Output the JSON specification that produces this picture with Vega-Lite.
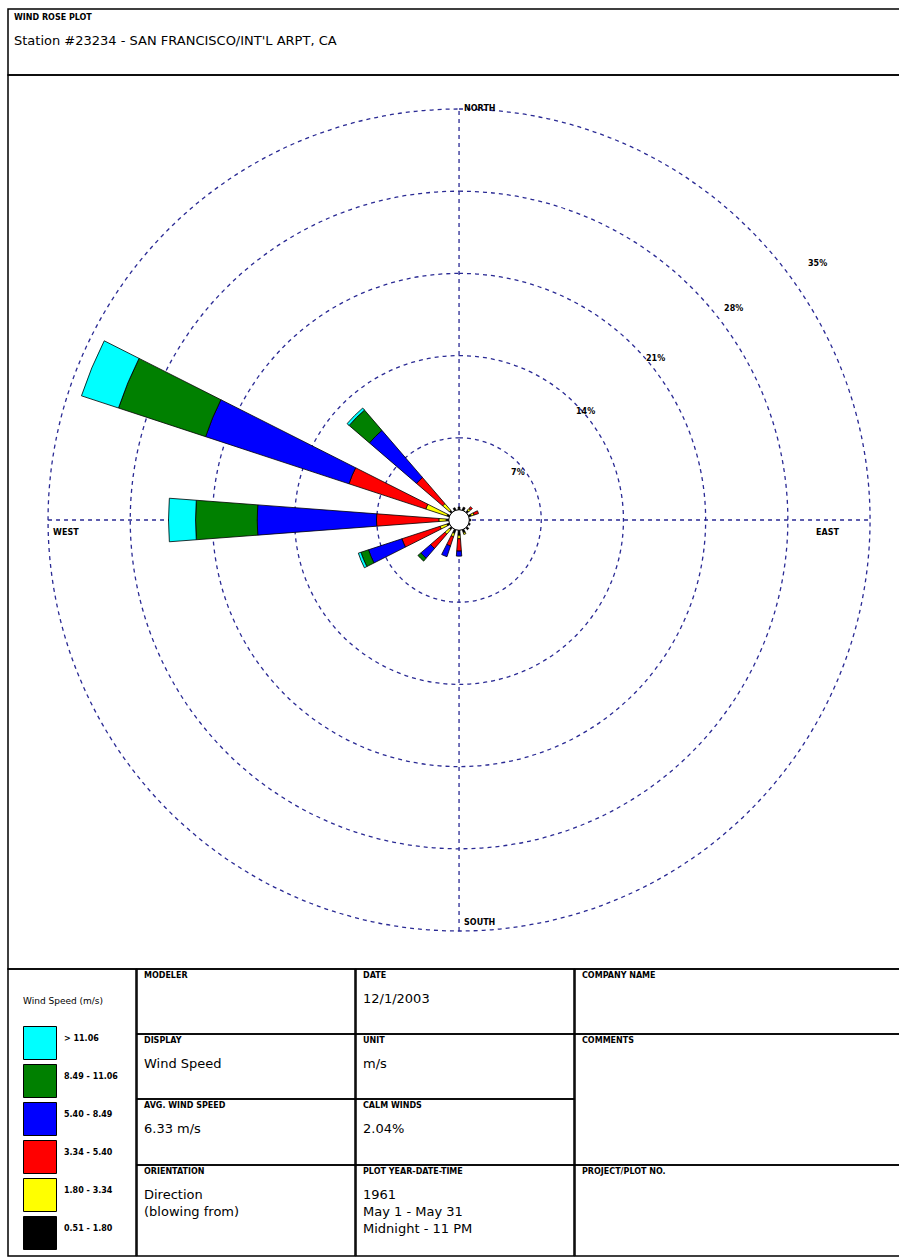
{
  "$schema": "https://vega.github.io/schema/vega-lite/v6.json",
  "padding": {"left": 7, "top": 8, "right": 0, "bottom": 0},
  "background": "white",
  "bounds": "flush",
  "spacing": 0,
  "config": {
    "view": {"stroke": "black", "strokeWidth": 1.5},
    "font": "DejaVu Sans",
    "title": {"anchor": "start", "frame": "group", "font": "DejaVu Sans", "fontSize": 8, "fontWeight": "bold", "color": "black", "subtitleFont": "DejaVu Sans", "subtitleFontSize": 13, "subtitleFontWeight": "normal", "subtitleColor": "black", "subtitlePadding": 12.5, "subtitleLineHeight": 17, "dx": 7}
  },
  "vconcat": [
    {
      "width": 892, "height": 66,
      "view": {"stroke": "black", "strokeWidth": 1.5},
      "title": {"text": "WIND ROSE PLOT", "subtitle": "Station #23234 - SAN FRANCISCO/INT'L ARPT, CA", "fontSize": 8, "subtitlePadding": 13, "offset": -39, "dx": 6},
      "data": {"values": [{"note": ""}]},
      "mark": "text",
      "encoding": {"text": {"field": "note"}}
    },
    {
      "width": 892, "height": 894,
      "layer": [
        {
          "data": {"values": [{"ring": 7}, {"ring": 14}, {"ring": 21}, {"ring": 28}, {"ring": 35}]},
          "mark": {"type": "arc", "theta": 0, "theta2": 6.2832, "filled": false, "stroke": "#2a2a94", "strokeWidth": 1.3, "strokeDash": [4, 4]},
          "encoding": {
            "x": {"datum": 0, "type": "quantitative", "scale": {"domain": [-38.41, 37.55], "nice": false, "zero": false}, "axis": null},
            "y": {"datum": 0, "type": "quantitative", "scale": {"domain": [-38.24, 37.9], "nice": false, "zero": false}, "axis": null},
            "radius": {"field": "ring", "type": "quantitative", "stack": null, "scale": {"type": "linear", "domain": [0, 35], "range": [0, 411], "zero": true, "nice": false}}
          }
        },
        {
          "data": {"values": [{"x": -35, "x2": 35, "y": 0, "y2": 0}, {"x": 0, "x2": 0, "y": -35, "y2": 35}]},
          "mark": {"type": "rule", "stroke": "#2a2a94", "strokeWidth": 1.3, "strokeDash": [4, 4]},
          "encoding": {
            "x": {"field": "x", "type": "quantitative", "scale": {"domain": [-38.41, 37.55], "nice": false, "zero": false}, "axis": null},
            "x2": {"field": "x2"},
            "y": {"field": "y", "type": "quantitative", "scale": {"domain": [-38.24, 37.9], "nice": false, "zero": false}, "axis": null},
            "y2": {"field": "y2"}
          }
        },
        {
          "data": {"values": [
            {"direction": "N", "bearing": 0, "speed": "0.51 - 1.80", "lo": 0, "hi": 1.1},
            {"direction": "NNE", "bearing": 22.5, "speed": "0.51 - 1.80", "lo": 0, "hi": 1.15},
            {"direction": "NE", "bearing": 45, "speed": "0.51 - 1.80", "lo": 0, "hi": 1.1},
            {"direction": "NE", "bearing": 45, "speed": "1.80 - 3.34", "lo": 1.1, "hi": 1.3},
            {"direction": "NE", "bearing": 45, "speed": "3.34 - 5.40", "lo": 1.3, "hi": 1.5},
            {"direction": "ENE", "bearing": 67.5, "speed": "0.51 - 1.80", "lo": 0, "hi": 1.1},
            {"direction": "ENE", "bearing": 67.5, "speed": "1.80 - 3.34", "lo": 1.1, "hi": 1.35},
            {"direction": "ENE", "bearing": 67.5, "speed": "3.34 - 5.40", "lo": 1.35, "hi": 1.75},
            {"direction": "E", "bearing": 90, "speed": "0.51 - 1.80", "lo": 0, "hi": 1.0},
            {"direction": "ESE", "bearing": 112.5, "speed": "0.51 - 1.80", "lo": 0, "hi": 1.0},
            {"direction": "SE", "bearing": 135, "speed": "0.51 - 1.80", "lo": 0, "hi": 1.1},
            {"direction": "SSE", "bearing": 157.5, "speed": "0.51 - 1.80", "lo": 0, "hi": 1.15},
            {"direction": "SSE", "bearing": 157.5, "speed": "1.80 - 3.34", "lo": 1.15, "hi": 1.3},
            {"direction": "S", "bearing": 180, "speed": "0.51 - 1.80", "lo": 0, "hi": 1.3},
            {"direction": "S", "bearing": 180, "speed": "1.80 - 3.34", "lo": 1.3, "hi": 1.6},
            {"direction": "S", "bearing": 180, "speed": "3.34 - 5.40", "lo": 1.6, "hi": 2.65},
            {"direction": "S", "bearing": 180, "speed": "5.40 - 8.49", "lo": 2.65, "hi": 3.08},
            {"direction": "SSW", "bearing": 202.5, "speed": "0.51 - 1.80", "lo": 0, "hi": 1.2},
            {"direction": "SSW", "bearing": 202.5, "speed": "1.80 - 3.34", "lo": 1.2, "hi": 1.5},
            {"direction": "SSW", "bearing": 202.5, "speed": "3.34 - 5.40", "lo": 1.5, "hi": 2.33},
            {"direction": "SSW", "bearing": 202.5, "speed": "5.40 - 8.49", "lo": 2.33, "hi": 3.29},
            {"direction": "SW", "bearing": 225, "speed": "0.51 - 1.80", "lo": 0, "hi": 1.1},
            {"direction": "SW", "bearing": 225, "speed": "1.80 - 3.34", "lo": 1.1, "hi": 1.6},
            {"direction": "SW", "bearing": 225, "speed": "3.34 - 5.40", "lo": 1.6, "hi": 3.2},
            {"direction": "SW", "bearing": 225, "speed": "5.40 - 8.49", "lo": 3.2, "hi": 4.3},
            {"direction": "SW", "bearing": 225, "speed": "8.49 - 11.06", "lo": 4.3, "hi": 4.62},
            {"direction": "WSW", "bearing": 247.5, "speed": "0.51 - 1.80", "lo": 0, "hi": 1.1},
            {"direction": "WSW", "bearing": 247.5, "speed": "1.80 - 3.34", "lo": 1.1, "hi": 1.7},
            {"direction": "WSW", "bearing": 247.5, "speed": "3.34 - 5.40", "lo": 1.7, "hi": 5.12},
            {"direction": "WSW", "bearing": 247.5, "speed": "5.40 - 8.49", "lo": 5.12, "hi": 8.12},
            {"direction": "WSW", "bearing": 247.5, "speed": "8.49 - 11.06", "lo": 8.12, "hi": 8.8},
            {"direction": "WSW", "bearing": 247.5, "speed": "> 11.06", "lo": 8.8, "hi": 9.03},
            {"direction": "W", "bearing": 270, "speed": "0.51 - 1.80", "lo": 0, "hi": 1.1},
            {"direction": "W", "bearing": 270, "speed": "1.80 - 3.34", "lo": 1.1, "hi": 1.72},
            {"direction": "W", "bearing": 270, "speed": "3.34 - 5.40", "lo": 1.72, "hi": 7.03},
            {"direction": "W", "bearing": 270, "speed": "5.40 - 8.49", "lo": 7.03, "hi": 17.19},
            {"direction": "W", "bearing": 270, "speed": "8.49 - 11.06", "lo": 17.19, "hi": 22.44},
            {"direction": "W", "bearing": 270, "speed": "> 11.06", "lo": 22.44, "hi": 24.74},
            {"direction": "WNW", "bearing": 292.5, "speed": "0.51 - 1.80", "lo": 0, "hi": 1.1},
            {"direction": "WNW", "bearing": 292.5, "speed": "1.80 - 3.34", "lo": 1.1, "hi": 2.98},
            {"direction": "WNW", "bearing": 292.5, "speed": "3.34 - 5.40", "lo": 2.98, "hi": 9.87},
            {"direction": "WNW", "bearing": 292.5, "speed": "5.40 - 8.49", "lo": 9.87, "hi": 22.72},
            {"direction": "WNW", "bearing": 292.5, "speed": "8.49 - 11.06", "lo": 22.72, "hi": 30.53},
            {"direction": "WNW", "bearing": 292.5, "speed": "> 11.06", "lo": 30.53, "hi": 33.85},
            {"direction": "NW", "bearing": 315, "speed": "0.51 - 1.80", "lo": 0, "hi": 1.1},
            {"direction": "NW", "bearing": 315, "speed": "1.80 - 3.34", "lo": 1.1, "hi": 1.85},
            {"direction": "NW", "bearing": 315, "speed": "3.34 - 5.40", "lo": 1.85, "hi": 4.78},
            {"direction": "NW", "bearing": 315, "speed": "5.40 - 8.49", "lo": 4.78, "hi": 10.07},
            {"direction": "NW", "bearing": 315, "speed": "8.49 - 11.06", "lo": 10.07, "hi": 12.35},
            {"direction": "NW", "bearing": 315, "speed": "> 11.06", "lo": 12.35, "hi": 12.58},
            {"direction": "NNW", "bearing": 337.5, "speed": "0.51 - 1.80", "lo": 0, "hi": 1.1}
          ]},
          "mark": {"type": "arc", "stroke": "black", "strokeWidth": 0.8, "thetaOffset": -0.075, "theta2Offset": 0.075},
          "encoding": {
            "x": {"datum": 0, "type": "quantitative", "scale": {"domain": [-38.41, 37.55], "nice": false, "zero": false}, "axis": null},
            "y": {"datum": 0, "type": "quantitative", "scale": {"domain": [-38.24, 37.9], "nice": false, "zero": false}, "axis": null},
            "theta": {"field": "bearing", "type": "quantitative", "stack": null, "scale": {"domain": [0, 360], "range": [0, 6.283185], "zero": false, "nice": false}},
            "theta2": {"field": "bearing"},
            "radius": {"field": "hi", "type": "quantitative", "stack": null, "scale": {"type": "linear", "domain": [0, 35], "range": [0, 411], "zero": true, "nice": false}},
            "radius2": {"field": "lo"},
            "color": {
              "field": "speed", "type": "nominal",
              "scale": {"domain": ["> 11.06", "8.49 - 11.06", "5.40 - 8.49", "3.34 - 5.40", "1.80 - 3.34", "0.51 - 1.80"], "range": ["#00FFFF", "#008000", "#0000FF", "#FF0000", "#FFFF00", "#000000"]},
              "legend": {
                "title": "Wind Speed (m/s)", "orient": "none", "legendX": 15, "legendY": 988, "padding": 0,
                "titleFont": "DejaVu Sans", "titleFontSize": 9, "titleFontWeight": "normal", "titleColor": "black", "titlePadding": 20,
                "symbolType": "square", "symbolSize": 1089, "symbolStrokeColor": "black", "symbolStrokeWidth": 1, "symbolOpacity": 1,
                "rowPadding": 0, "labelOffset": 7, "labelFont": "DejaVu Sans", "labelFontSize": 8, "labelFontWeight": "bold", "labelColor": "black", "labelBaseline": "bottom"
              }
            }
          }
        },
        {
          "data": {"values": [{"calm": "2.04%"}]},
          "mark": {"type": "arc", "radius": 10.3, "theta": 0, "theta2": 6.2832, "fill": "white", "stroke": "black", "strokeWidth": 1},
          "encoding": {
            "x": {"datum": 0, "type": "quantitative", "scale": {"domain": [-38.41, 37.55], "nice": false, "zero": false}, "axis": null},
            "y": {"datum": 0, "type": "quantitative", "scale": {"domain": [-38.24, 37.9], "nice": false, "zero": false}, "axis": null}
          }
        },
        {
          "data": {"values": [
            {"label": "NORTH", "x": 0.43, "y": 35.0},
            {"label": "SOUTH", "x": 0.43, "y": -34.32},
            {"label": "WEST", "x": -34.57, "y": -1.11},
            {"label": "EAST", "x": 30.4, "y": -1.11},
            {"label": "7%", "x": 4.43, "y": 4.03},
            {"label": "14%", "x": 9.96, "y": 9.2},
            {"label": "21%", "x": 15.92, "y": 13.75},
            {"label": "28%", "x": 22.57, "y": 18.01},
            {"label": "35%", "x": 29.72, "y": 21.84}
          ]},
          "mark": {"type": "text", "align": "left", "baseline": "middle", "fontSize": 8, "fontWeight": "bold", "color": "black", "font": "DejaVu Sans"},
          "encoding": {
            "x": {"field": "x", "type": "quantitative", "scale": {"domain": [-38.41, 37.55], "nice": false, "zero": false}, "axis": null},
            "y": {"field": "y", "type": "quantitative", "scale": {"domain": [-38.24, 37.9], "nice": false, "zero": false}, "axis": null},
            "text": {"field": "label"}
          }
        }
      ]
    },
    {
      "hconcat": [
        {"width": 128, "height": 287, "view": {"stroke": "black", "strokeWidth": 1.5}, "data": {"values": [{"note": ""}]}, "mark": "text", "encoding": {"text": {"field": "note"}}},
        {
          "vconcat": [
            {"width": 218, "height": 65, "view": {"stroke": "black", "strokeWidth": 1.5}, "title": {"text": "MODELER", "offset": -11}, "data": {"values": [{"note": ""}]}, "mark": "text", "encoding": {"text": {"field": "note"}}},
            {"width": 218, "height": 65, "view": {"stroke": "black", "strokeWidth": 1.5}, "title": {"text": "DISPLAY", "subtitle": "Wind Speed", "offset": -36.5}, "data": {"values": [{"note": ""}]}, "mark": "text", "encoding": {"text": {"field": "note"}}},
            {"width": 218, "height": 66, "view": {"stroke": "black", "strokeWidth": 1.5}, "title": {"text": "AVG. WIND SPEED", "subtitle": "6.33 m/s", "offset": -36.5}, "data": {"values": [{"note": ""}]}, "mark": "text", "encoding": {"text": {"field": "note"}}},
            {"width": 218, "height": 91, "view": {"stroke": "black", "strokeWidth": 1.5}, "title": {"text": "ORIENTATION", "subtitle": ["Direction", "(blowing from)"], "offset": -53.5}, "data": {"values": [{"note": ""}]}, "mark": "text", "encoding": {"text": {"field": "note"}}}
          ],
          "spacing": 0, "bounds": "flush"
        },
        {
          "vconcat": [
            {"width": 218, "height": 65, "view": {"stroke": "black", "strokeWidth": 1.5}, "title": {"text": "DATE", "subtitle": "12/1/2003", "offset": -36.5}, "data": {"values": [{"note": ""}]}, "mark": "text", "encoding": {"text": {"field": "note"}}},
            {"width": 218, "height": 65, "view": {"stroke": "black", "strokeWidth": 1.5}, "title": {"text": "UNIT", "subtitle": "m/s", "offset": -36.5}, "data": {"values": [{"note": ""}]}, "mark": "text", "encoding": {"text": {"field": "note"}}},
            {"width": 218, "height": 66, "view": {"stroke": "black", "strokeWidth": 1.5}, "title": {"text": "CALM WINDS", "subtitle": "2.04%", "offset": -36.5}, "data": {"values": [{"note": ""}]}, "mark": "text", "encoding": {"text": {"field": "note"}}},
            {"width": 218, "height": 91, "view": {"stroke": "black", "strokeWidth": 1.5}, "title": {"text": "PLOT YEAR-DATE-TIME", "subtitle": ["1961", "May 1 - May 31", "Midnight - 11 PM"], "offset": -70.5}, "data": {"values": [{"note": ""}]}, "mark": "text", "encoding": {"text": {"field": "note"}}}
          ],
          "spacing": 0, "bounds": "flush"
        },
        {
          "vconcat": [
            {"width": 325, "height": 65, "view": {"stroke": "black", "strokeWidth": 1.5}, "title": {"text": "COMPANY NAME", "offset": -11}, "data": {"values": [{"note": ""}]}, "mark": "text", "encoding": {"text": {"field": "note"}}},
            {"width": 325, "height": 131, "view": {"stroke": "black", "strokeWidth": 1.5}, "title": {"text": "COMMENTS", "offset": -11}, "data": {"values": [{"note": ""}]}, "mark": "text", "encoding": {"text": {"field": "note"}}},
            {"width": 325, "height": 91, "view": {"stroke": "black", "strokeWidth": 1.5}, "title": {"text": "PROJECT/PLOT NO.", "offset": -11}, "data": {"values": [{"note": ""}]}, "mark": "text", "encoding": {"text": {"field": "note"}}}
          ],
          "spacing": 0, "bounds": "flush"
        }
      ],
      "spacing": -1.5
    }
  ]
}
